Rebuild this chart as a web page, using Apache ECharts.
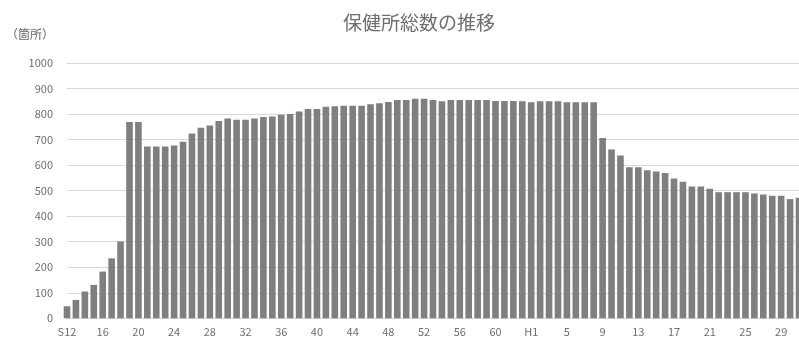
<!DOCTYPE html>
<html><head><meta charset="utf-8">
<script src="https://cdn.jsdelivr.net/npm/echarts@6/dist/echarts.min.js"></script>
<style>html,body{margin:0;padding:0;background:#fff}#c{width:799px;height:342px}</style>
</head><body><div id="c"></div>
<script>
// Categories: 昭和12〜63, 平成1〜31
const showaYears = [];
for (let y = 12; y <= 63; y++) showaYears.push(y === 12 ? 'S12' : String(y));
const heiseiYears = [];
for (let y = 1; y <= 31; y++) heiseiYears.push(y === 1 ? 'H1' : String(y));
const categories = showaYears.concat(heiseiYears);

const showaValues = [
  47, 72, 105, 131, 183, 235, 301, 769, 769, 673,
  673, 673, 677, 692, 724, 746, 755, 773, 783, 778,
  778, 783, 788, 790, 797, 800, 810, 820, 820, 829,
  831, 833, 833, 833, 838, 842, 847, 855, 855, 860,
  860, 855, 850, 855, 855, 855, 855, 855, 851, 851,
  851, 850
];
const heiseiValues = [
  846, 850, 850, 850, 846, 846, 846, 846, 706, 661,
  638, 592, 592, 580, 575, 569, 548, 535, 516, 516,
  507, 494, 494, 494, 494, 489, 485, 480, 480, 467,
  472
];
const values = showaValues.concat(heiseiValues);

const yTicks = { min: 0, max: 1000, interval: 100 };
const titleText = '保健所総数の推移';
const unitText = '（箇所）';

const font = '"Noto Sans CJK JP", "Noto Sans", sans-serif';
const chart = echarts.init(document.getElementById('c'), null, { renderer: 'canvas' });
chart.setOption({
  animation: false,
  backgroundColor: '#ffffff',
  title: {
    text: titleText,
    left: 414, top: 8, textAlign: 'center',
    textStyle: { fontFamily: font, fontSize: 19, fontWeight: 'normal', color: '#6e6e6e' }
  },
  graphic: [{
    type: 'text', left: 6, top: 28,
    style: { text: unitText, fontFamily: font, fontSize: 12, fill: '#666666' }
  }],
  grid: { left: 67, right: 0, top: 63, bottom: 23.7, containLabel: false },
  xAxis: {
    type: 'category',
    data: categories,
    boundaryGap: false,
    min: 0,
    max: 82.35,
    axisLine: { show: true, lineStyle: { color: '#d9d9d9' } },
    axisTick: { show: false },
    axisLabel: { interval: 3, margin: 8, fontFamily: font, fontSize: 11, color: '#6e6e6e' },
    splitLine: { show: false }
  },
  yAxis: {
    type: 'value',
    min: yTicks.min, max: yTicks.max, interval: yTicks.interval,
    axisLine: { show: false },
    axisTick: { show: false },
    axisLabel: { margin: 14, fontFamily: font, fontSize: 11, color: '#6e6e6e', formatter: (v) => String(v) },
    splitLine: { lineStyle: { color: '#d9d9d9', width: 1 } }
  },
  series: [{
    type: 'bar',
    data: values,
    barWidth: 6.6,
    clip: true,
    itemStyle: { color: '#7f7f7f' }
  }]
});
</script></body></html>
